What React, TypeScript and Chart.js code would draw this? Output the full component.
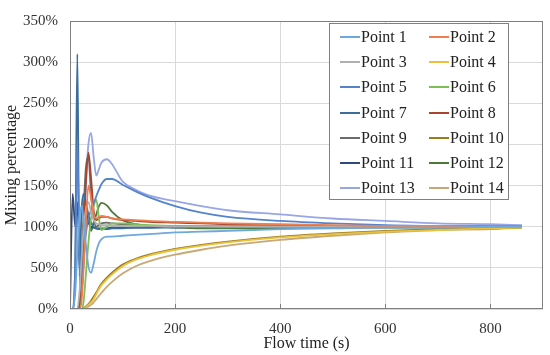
import React, { useEffect, useRef } from "react";
import { Chart, registerables } from "chart.js";
Chart.register(...registerables);

// ---- data ----
const times = [0, 5, 10, 14, 18, 22, 26, 30, 35, 40, 45, 50, 55, 60, 70, 80, 100, 125, 150, 200, 250, 300, 400, 500, 600, 700, 800, 860];

const seriesNames = ["Point 1", "Point 2", "Point 3", "Point 4", "Point 5", "Point 6", "Point 7", "Point 8", "Point 9", "Point 10", "Point 11", "Point 12", "Point 13", "Point 14"];

const point1 = [0, 0, 20, 70, 110, 125, 105, 80, 52, 44, 55, 70, 80, 85, 88, 88, 89, 90, 91, 93, 94, 95, 97, 98, 99, 99, 100, 100];
const point2 = [0, 0, 0, 0, 0, 10, 50, 100, 150, 135, 115, 110, 112, 113, 112, 110, 109, 108, 107, 106, 105, 104, 103, 102, 101, 101, 100, 100];
const point3 = [0, 0, 0, 0, 20, 60, 100, 120, 130, 118, 108, 104, 103, 102, 102, 101, 101, 101, 101, 100, 100, 100, 100, 100, 100, 100, 100, 100];
const point4 = [0, 0, 0, 0, 0, 0, 0, 2, 5, 8, 12, 18, 24, 29, 36, 42, 52, 60, 65, 72, 77, 81, 87, 91, 94, 96, 98, 99];
const point5 = [0, 0, 50, 205, 60, 20, 60, 90, 110, 120, 128, 137, 145, 152, 158, 158, 151, 143, 136, 125, 117, 112, 107, 104, 102, 101, 101, 101];
const point6 = [0, 0, 0, 0, 0, 0, 10, 40, 80, 110, 125, 133, 110, 96, 100, 104, 104, 103, 102, 101, 101, 100, 100, 100, 100, 100, 100, 100];
const point7 = [0, 0, 60, 310, 40, 120, 140, 130, 115, 105, 100, 98, 97, 97, 97, 98, 98, 99, 99, 99, 100, 100, 100, 100, 100, 100, 100, 100];
const point8 = [0, 0, 0, 0, 10, 50, 100, 150, 190, 160, 120, 108, 110, 112, 112, 110, 108, 107, 106, 105, 104, 103, 102, 101, 101, 100, 100, 100];
const point9 = [0, 0, 0, 0, 10, 50, 120, 170, 185, 140, 110, 100, 102, 104, 105, 104, 103, 102, 101, 100, 100, 100, 100, 100, 100, 100, 100, 100];
const point10 = [0, 0, 0, 0, 0, 0, 1, 3, 6, 10, 15, 20, 26, 31, 38, 44, 54, 61, 66, 73, 78, 82, 88, 92, 95, 97, 98, 99];
const point11 = [0, 140, 100, 130, 60, 20, 80, 120, 105, 100, 99, 98, 98, 98, 98, 99, 99, 99, 99, 100, 100, 100, 100, 100, 101, 101, 101, 101];
const point12 = [0, 0, 0, 0, 0, 20, 60, 100, 110, 95, 105, 115, 125, 129, 126, 118, 108, 103, 101, 99, 98, 98, 98, 99, 99, 99, 100, 100];
const point13 = [0, 0, 0, 0, 5, 30, 80, 150, 200, 214, 185, 162, 170, 178, 182, 176, 155, 145, 138, 131, 125, 120, 115, 110, 107, 104, 103, 102];
const point14 = [0, 0, 0, 0, 0, 0, 0, 1, 3, 5, 8, 12, 16, 20, 27, 33, 43, 52, 58, 66, 72, 77, 84, 89, 93, 96, 97, 99];

const seriesValues = [point1, point2, point3, point4, point5, point6, point7, point8, point9, point10, point11, point12, point13, point14];

const xTickValues = [0, 200, 400, 600, 800];
const yTickValues = [0, 50, 100, 150, 200, 250, 300, 350];

// ---- style ----
const colors = ["#6FA8DC", "#F07F4F", "#B0B0B0", "#E8C23A", "#5584CC", "#7DBE55", "#3A6E9C", "#A94430", "#6B6B6B", "#9C7A1E", "#2E4A7E", "#4C7A3A", "#98A6E6", "#C9A877"];
const FONT = "'Liberation Serif', 'Times New Roman', serif";

const framePlugin = {
  id: "frame",
  afterDraw(chart: any) {
    const { ctx, chartArea } = chart;
    const { left, top, right, bottom } = chartArea;
    const x = chart.scales.x;
    ctx.save();
    ctx.strokeStyle = "#7f7f7f";
    ctx.lineWidth = 1;
    ctx.strokeRect(left + 0.5, top + 0.5, right - left - 1, bottom - top - 1);
    ctx.beginPath();
    for (const v of xTickValues) {
      if (v === 0) continue;
      const px = Math.round(x.getPixelForValue(v)) + 0.5;
      ctx.moveTo(px, bottom);
      ctx.lineTo(px, bottom - 5);
    }
    ctx.stroke();
    ctx.restore();
  },
};

export default function App() {
  const ref = useRef<HTMLCanvasElement | null>(null);

  useEffect(() => {
    if (!ref.current) return;
    const datasets = seriesValues.map((vals, i) => ({
      label: seriesNames[i],
      data: vals.map((v, j) => ({ x: times[j], y: v })),
      borderColor: colors[i],
      backgroundColor: colors[i],
      borderWidth: 1.8,
      pointRadius: 0,
      fill: false,
      cubicInterpolationMode: "monotone" as const,
    }));
    const chart = new Chart(ref.current, {
      type: "line",
      data: { datasets },
      options: {
        animation: false,
        responsive: true,
        maintainAspectRatio: false,
        layout: { padding: { left: 0, right: 7, top: 13, bottom: 0 } },
        plugins: { legend: { display: false }, tooltip: { enabled: false } },
        scales: {
          x: {
            type: "linear",
            min: 0,
            max: 900,
            afterFit: (s: any) => { s.height = 46; },
            border: { display: false },
            grid: { color: "#d9d9d9", drawTicks: false },
            afterBuildTicks: (s: any) => { s.ticks = xTickValues.map((v) => ({ value: v })); },
            ticks: { padding: 11, color: "#333", font: { family: FONT, size: 15 }, maxRotation: 0 },
            title: { display: true, text: "Flow time (s)", color: "#222", font: { family: FONT, size: 16 }, padding: { top: 0, bottom: 2 } },
          },
          y: {
            min: 0,
            max: 350,
            afterFit: (s: any) => { s.width = 70; },
            border: { display: false },
            grid: { color: "#d9d9d9", drawTicks: false },
            afterBuildTicks: (s: any) => { s.ticks = yTickValues.map((v) => ({ value: v })); },
            ticks: { padding: 12, color: "#333", font: { family: FONT, size: 15 }, callback: (v: any) => `${v}%` },
            title: { display: true, text: "Mixing percentage", color: "#222", font: { family: FONT, size: 16 }, padding: { top: 2, bottom: 0 } },
          },
        },
      },
      plugins: [framePlugin],
    });
    return () => chart.destroy();
  }, []);

  return (
    <div style={{ position: "fixed", left: 0, top: 0, width: 550, height: 355, background: "#fff" }}>
      <canvas ref={ref} />
      <div
        style={{
          position: "absolute",
          left: 329,
          top: 23,
          width: 178,
          height: 175,
          border: "1px solid #808080",
          background: "#fff",
          fontFamily: FONT,
          fontSize: 16,
          color: "#222",
        }}
      >
        {seriesNames.map((name, i) => {
          const col = i % 2;
          const row = Math.floor(i / 2);
          return (
            <div
              key={name}
              style={{
                position: "absolute",
                left: col === 0 ? 10 : 99,
                top: row * 25.3,
                height: 25.3,
                display: "flex",
                alignItems: "center",
                whiteSpace: "nowrap",
              }}
            >
              <span style={{ display: "inline-block", width: 20, height: 2, background: colors[i], marginRight: 1 }} />
              <span>{name}</span>
            </div>
          );
        })}
      </div>
    </div>
  );
}
